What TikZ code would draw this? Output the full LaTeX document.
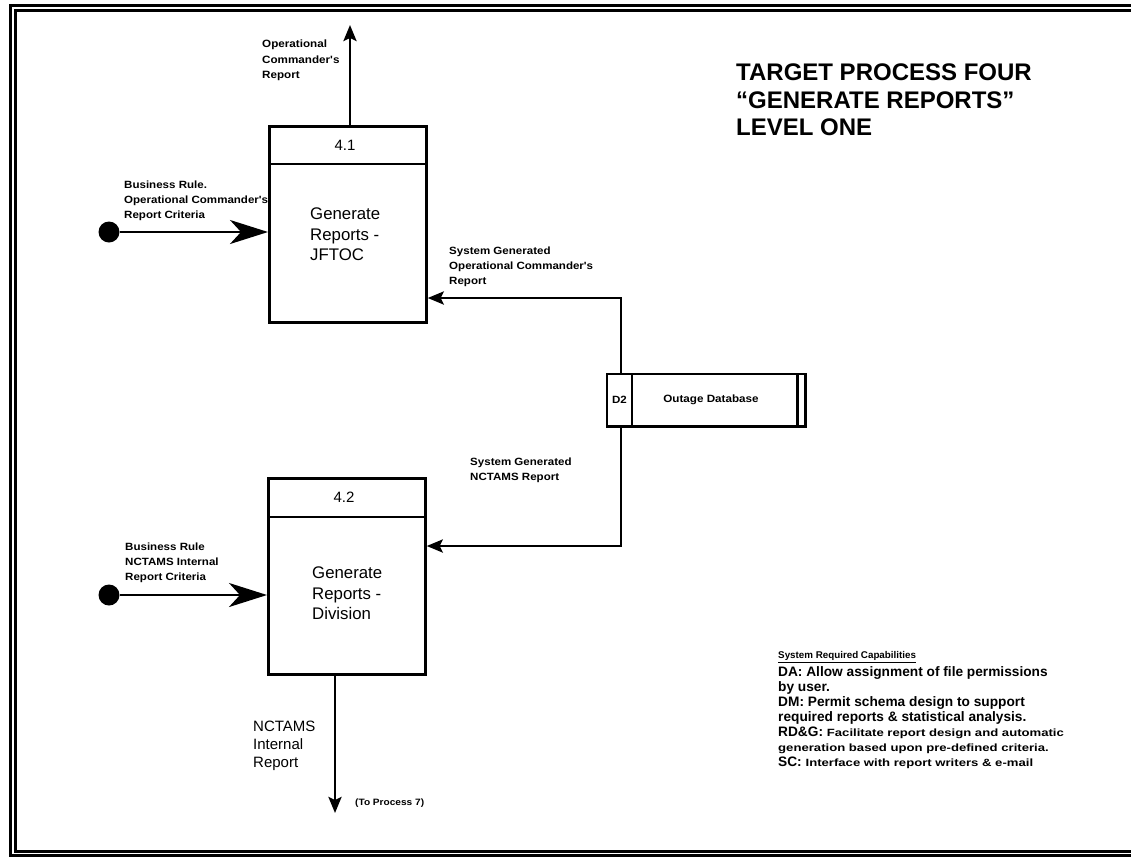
\documentclass[tikz,border=0pt]{standalone}
\usepackage{fontspec}
\setmainfont{Liberation Sans}
\newfontfamily\lblfam[FakeStretch=1.1]{Liberation Sans}
\newfontfamily\widefam[FakeStretch=1.25]{Liberation Sans}
\usetikzlibrary{arrows.meta}
\begin{document}
\begin{tikzpicture}[x=1pt,y=-1pt,
  procbox/.style={draw, line width=2.7pt, minimum width=157pt, minimum height=196pt, inner sep=0, anchor=north west},
  lbl/.style={font=\lblfam\bfseries\fontsize{10.5}{15}\selectfont, align=left, inner sep=0, anchor=north west},
  bigtext/.style={font=\fontsize{16.8}{20.5}\selectfont, align=left, inner sep=0, anchor=north west},
  flow/.style={line width=2.7pt, -{Stealth[length=16pt,width=13pt,inset=3pt]}},
  inflow/.style={line width=2.7pt, -{Stealth[length=38pt,width=24pt,inset=11pt]}},
  dotnode/.style={circle, fill=black, inner sep=0, minimum size=21pt},
  frame/.style={line width=3pt},
  storeline/.style={line width=2.4pt}
]
\useasboundingbox (0,0) rectangle (1131,857);
% frame
\draw[frame] (1131,5) -- (10,5) -- (10,855) -- (1131,855);
\draw[frame] (1131,10.5) -- (15,10.5) -- (15,851) -- (1131,851);

% process 4.1
\node[procbox] (p41) at (268,125) {};
\draw[line width=2.4pt] ([yshift=-39pt]p41.north west) -- ([yshift=-39pt]p41.north east);
\node[font=\fontsize{15}{17}\selectfont] (n41) at (345,145) {4.1};
\node[bigtext] (t41) at (310,208) {Generate\\Reports -\\JFTOC};

% process 4.2
\node[procbox] (p42) at (267,477) {};
\draw[line width=2.4pt] ([yshift=-40pt]p42.north west) -- ([yshift=-40pt]p42.north east);
\node[font=\fontsize{15}{17}\selectfont] (n42) at (344,497) {4.2};
\node[bigtext] (t42) at (312,567) {Generate\\Reports -\\Division};

% data store D2
\node[minimum width=198pt, minimum height=52pt, inner sep=0, anchor=north west] (d2) at (607,374) {};
\draw[storeline] (d2.north east) -- (d2.north west) -- (d2.south west) -- (d2.south east) -- cycle;
\draw[storeline] ([xshift=25pt]d2.north west) -- ([xshift=25pt]d2.south west);
\draw[storeline] ([xshift=-8pt]d2.north east) -- ([xshift=-8pt]d2.south east);
\node[font=\lblfam\bfseries\fontsize{10.5}{12}\selectfont] (d2id) at (619.5,400) {D2};
\node[font=\lblfam\bfseries\fontsize{10.6}{12}\selectfont] (d2name) at (711,400) {Outage Database};

% top output
\coordinate (o41) at (350,25);
\draw[flow] (o41 |- p41.north) -- (o41);
\node[lbl, font=\lblfam\bfseries\fontsize{10.6}{15.5}\selectfont] (lo41) at (262,40) {Operational\\Commander's\\Report};

% business rule inputs
\node[dotnode] (b1) at (109,232) {};
\draw[inflow] (b1) -- (b1 -| p41.west);
\node[lbl] (lb1) at (124,181) {Business Rule.\\Operational Commander's\\Report Criteria};

\node[dotnode] (b2) at (109,595) {};
\draw[inflow] (b2) -- (b2 -| p42.west);
\node[lbl] (lb2) at (125,543) {Business Rule\\NCTAMS Internal\\Report Criteria};

% flows from D2
\coordinate (k1) at (621,298);
\draw[flow] (k1 |- d2.north) -- (k1) -- (k1 -| p41.east);
\node[lbl] (lk1) at (449,247) {System Generated\\Operational Commander's\\Report};

\coordinate (k2) at (621,546);
\draw[flow] (k2 |- d2.south) -- (k2) -- (k2 -| p42.east);
\node[lbl] (lk2) at (470,458) {System Generated\\NCTAMS Report};

% bottom output
\coordinate (o42) at (335,813);
\draw[flow] (o42 |- p42.south) -- (o42);
\node[inner sep=0, anchor=north west, align=left, font=\fontsize{15}{18}\selectfont] (lo42) at (253,721) {NCTAMS\\Internal\\Report};
\node[inner sep=0, anchor=west, font=\lblfam\bfseries\fontsize{9.2}{11}\selectfont] (tp7) at (355,803) {(To Process 7)};

% title
\node[inner sep=0, anchor=north west, align=left, font=\bfseries\fontsize{24}{27.5}\selectfont] (title) at (736,64) {TARGET PROCESS FOUR\\“GENERATE REPORTS”\\LEVEL ONE};

% capabilities
\node[inner sep=0, anchor=west, font=\bfseries\fontsize{9.8}{11}\selectfont] (caph) at (778,657) {\underline{System Required Capabilities}};
\node[inner sep=0, anchor=north west, align=left, font=\bfseries\fontsize{13.7}{15}\selectfont] (caps) at (778,666) {DA: Allow assignment of file permissions\\
by user.\\
DM: Permit schema design to support\\
required reports \& statistical analysis.\\
RD\&G: {\widefam\fontsize{10.5}{15}\selectfont Facilitate report design and automatic}\\
{\widefam\fontsize{10.5}{15}\selectfont generation based upon pre-defined criteria.}\\
SC: {\widefam\fontsize{10.5}{15}\selectfont Interface with report writers \& e-mail}};
\end{tikzpicture}
\end{document}
